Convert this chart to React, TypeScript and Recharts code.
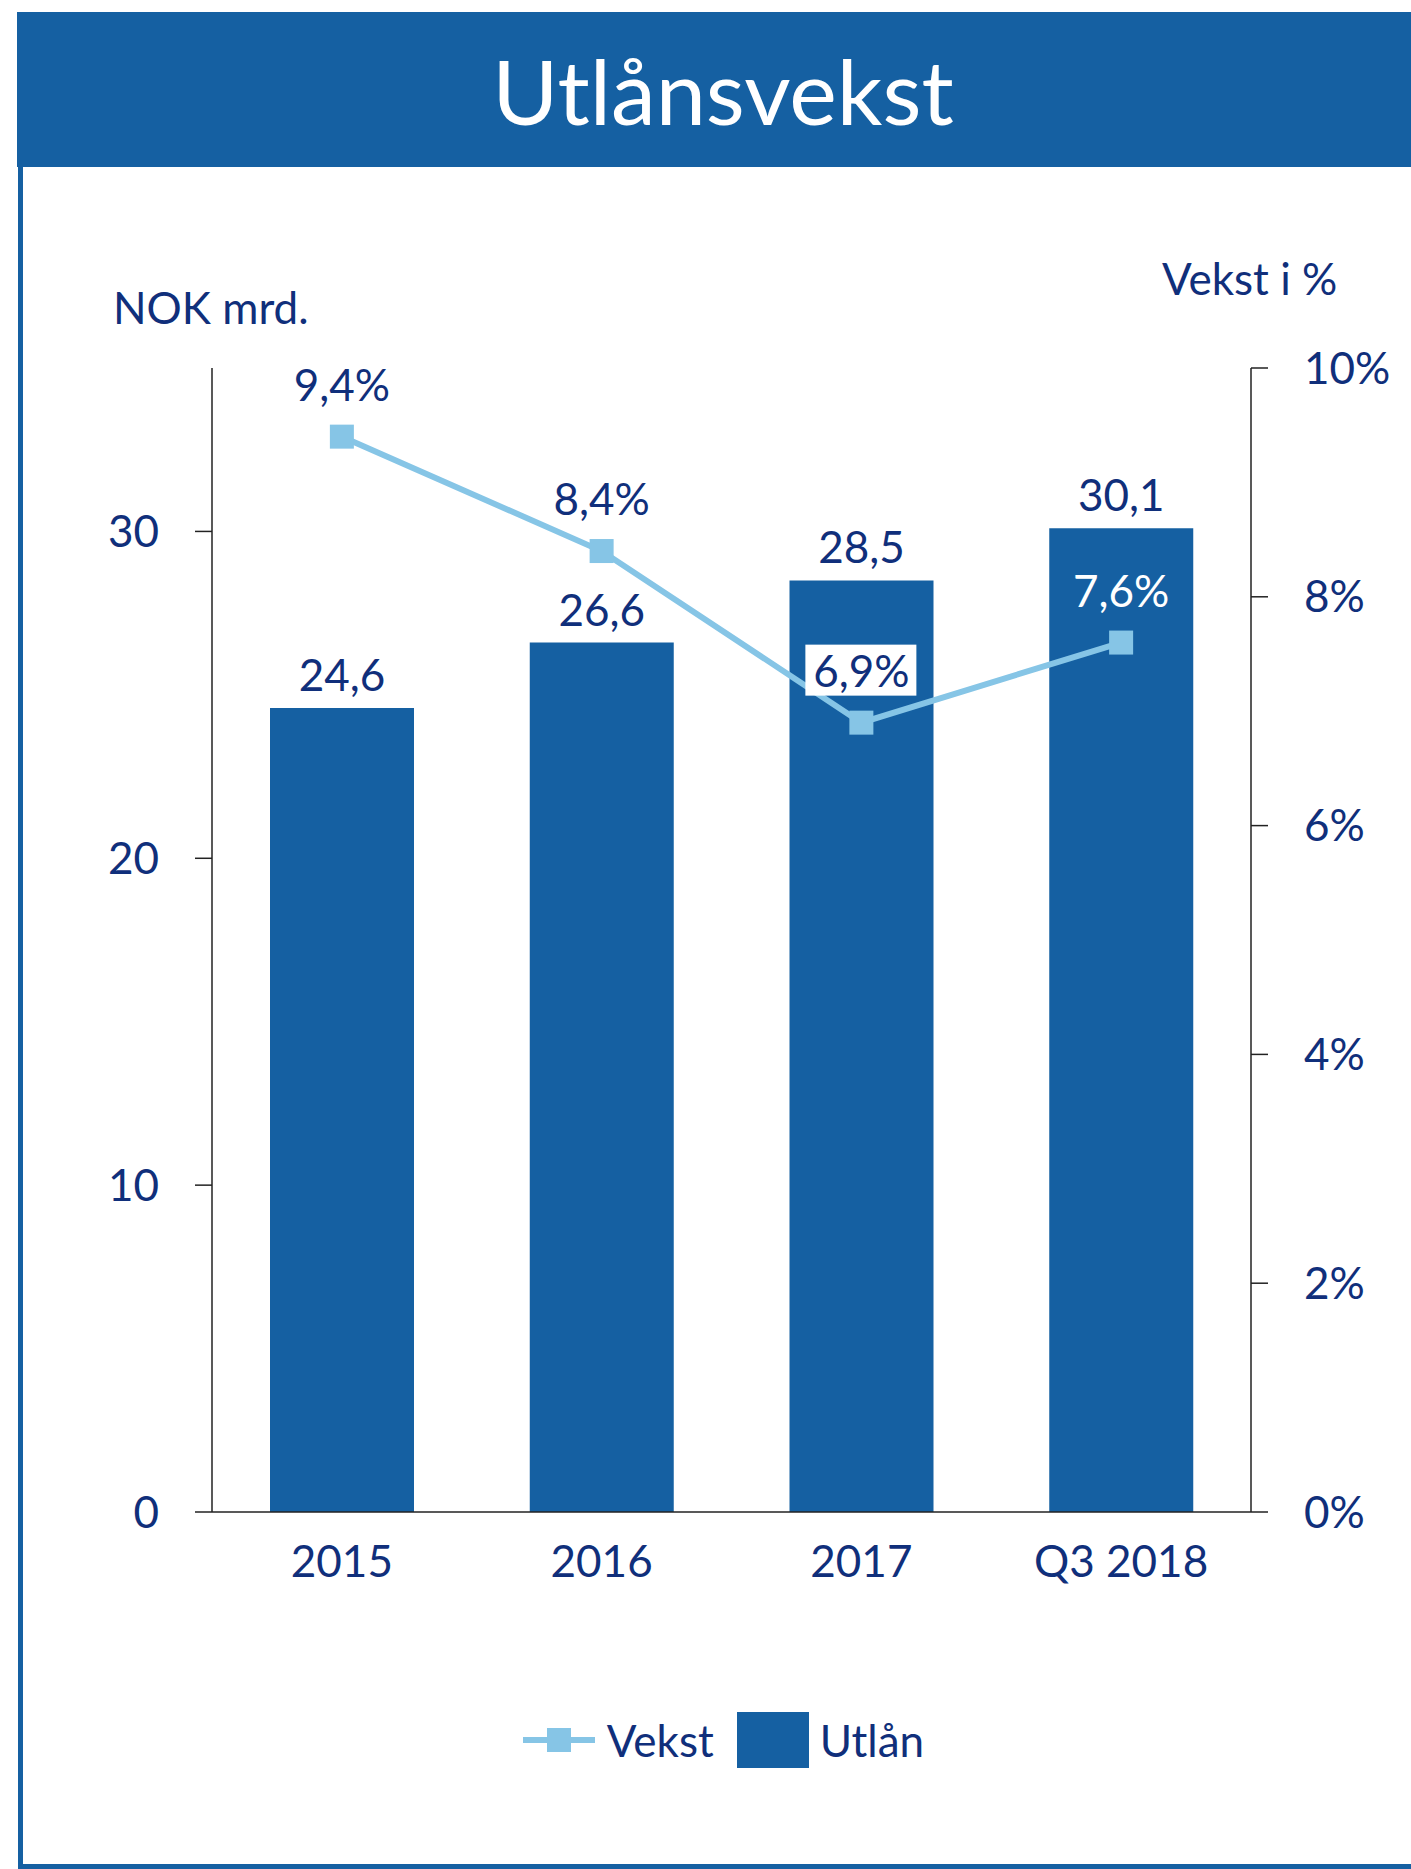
import React from "react";
import {
  ComposedChart,
  Bar,
  Line,
  XAxis,
  YAxis,
  Legend,
  LabelList,
} from "recharts";

const categories = ["2015", "2016", "2017", "Q3 2018"];
const utlan = [24.6, 26.6, 28.5, 30.1]; // NOK mrd.
const vekst = [9.4, 8.4, 6.9, 7.6]; // %
const leftTicks = [0, 10, 20, 30];
const rightTicks = [0, 2, 4, 6, 8, 10];

// labels that sit on top of a bar
const boxedLabels = new Set(["2017"]);
const whiteLabels = new Set(["Q3 2018"]);

const data = categories.map((c, i) => ({ cat: c, utlan: utlan[i], vekst: vekst[i] }));

const BLUE = "#1560a2";
const LIGHT = "#86c5e6";
const NAVY = "#102f7b";
const AXIS = "#222";
const FONT = "Lato, 'Noto Sans', sans-serif";

const comma = (v: number) => v.toFixed(1).replace(".", ",");

const SquareDot = (props: any) => {
  const { cx, cy } = props;
  if (cx == null || cy == null) return null;
  return <rect x={cx - 12} y={cy - 12} width={24} height={24} fill={LIGHT} />;
};

const VekstLabel = (props: any) => {
  const { x, y, value, index } = props;
  const cat = categories[index];
  const cy = y - 52;
  const txt = `${comma(value)}%`;
  const fill = whiteLabels.has(cat) ? "#fff" : NAVY;
  return (
    <g>
      {boxedLabels.has(cat) && (
        <rect x={x - 56} y={cy - 26} width={111} height={51} fill="#fff" />
      )}
      <text x={x} y={cy + 16} textAnchor="middle" fill={fill} fontSize={44}>
        {txt}
      </text>
    </g>
  );
};

const renderLegend = (props: any) => {
  const items = [...(props.payload || [])].reverse();
  return (
    <div
      style={{
        display: "flex",
        justifyContent: "center",
        alignItems: "center",
        height: 80,
        paddingLeft: 36,
        color: NAVY,
        fontSize: 44,
      }}
    >
      {items.map((it: any) =>
        it.type === "rect" ? (
          <div key={it.value} style={{ display: "flex", alignItems: "center", marginLeft: 23 }}>
            <div style={{ width: 72, height: 56, background: BLUE, marginRight: 11 }} />
            <span>{it.value}</span>
          </div>
        ) : (
          <div key={it.value} style={{ display: "flex", alignItems: "center" }}>
            <svg width={72} height={24} style={{ marginRight: 12 }}>
              <line x1={0} y1={12} x2={72} y2={12} stroke={LIGHT} strokeWidth={6} />
              <rect x={24} y={0} width={24} height={24} fill={LIGHT} />
            </svg>
            <span>{it.value}</span>
          </div>
        )
      )}
    </div>
  );
};

export default function App() {
  return (
    <div
      style={{
        position: "absolute",
        left: 0,
        top: 0,
        width: 1411,
        height: 1869,
        overflow: "hidden",
        background: "#fff",
        fontFamily: FONT,
      }}
    >
      <div
        style={{
          position: "absolute",
          left: 17,
          top: 12,
          width: 1394,
          height: 155,
          background: BLUE,
          color: "#fff",
          fontSize: 90,
          display: "flex",
          alignItems: "center",
          justifyContent: "center",
          paddingLeft: 18,
          boxSizing: "border-box",
        }}
      >
        Utlånsvekst
      </div>
      <div style={{ position: "absolute", left: 18, top: 167, width: 5, height: 1702, background: BLUE }} />
      <div style={{ position: "absolute", left: 18, top: 1864, width: 1393, height: 5, background: BLUE }} />
      <div style={{ position: "absolute", left: 113, top: 278, color: NAVY, fontSize: 44, lineHeight: "58px" }}>
        NOK mrd.
      </div>
      <div style={{ position: "absolute", left: 1162, top: 249, color: NAVY, fontSize: 44, lineHeight: "58px" }}>
        Vekst i %
      </div>
      <div style={{ position: "absolute", left: 0, top: 0 }}>
        <ComposedChart
          width={1411}
          height={1869}
          data={data}
          margin={{ top: 368, right: 0, bottom: 89, left: 0 }}
        >
          <XAxis
            dataKey="cat"
            tickLine={false}
            axisLine={{ stroke: AXIS, strokeWidth: 1.5 }}
            tick={{ fill: NAVY, fontSize: 44 }}
            tickSize={0}
            tickMargin={34}
            height={188}
            interval={0}
          />
          <YAxis
            yAxisId="nok"
            width={212}
            domain={[0, 35]}
            ticks={leftTicks}
            interval={0}
            stroke={AXIS}
            axisLine={{ stroke: AXIS, strokeWidth: 1.5 }}
            tickLine={{ stroke: AXIS, strokeWidth: 1.5 }}
            tickSize={17}
            tickMargin={36}
            tick={{ fill: NAVY, fontSize: 44 }}
          />
          <YAxis
            yAxisId="pct"
            orientation="right"
            width={160}
            domain={[0, 10]}
            ticks={rightTicks}
            interval={0}
            stroke={AXIS}
            axisLine={{ stroke: AXIS, strokeWidth: 1.5 }}
            tickLine={{ stroke: AXIS, strokeWidth: 1.5 }}
            tickSize={17}
            tickMargin={36}
            tick={{ fill: NAVY, fontSize: 44 }}
            tickFormatter={(v: number) => `${v}%`}
          />
          <Bar
            yAxisId="nok"
            dataKey="utlan"
            name="Utlån"
            fill={BLUE}
            barSize={144}
            isAnimationActive={false}
          >
            <LabelList
              dataKey="utlan"
              position="top"
              offset={17}
              fill={NAVY}
              fontSize={44}
              formatter={(v: any) => comma(Number(v))}
            />
          </Bar>
          <Line
            yAxisId="pct"
            dataKey="vekst"
            name="Vekst"
            stroke={LIGHT}
            strokeWidth={6}
            dot={<SquareDot />}
            activeDot={false}
            legendType="line"
            isAnimationActive={false}
          >
            <LabelList dataKey="vekst" content={<VekstLabel />} />
          </Line>
          <Legend verticalAlign="bottom" height={80} content={renderLegend} />
        </ComposedChart>
      </div>
    </div>
  );
}
